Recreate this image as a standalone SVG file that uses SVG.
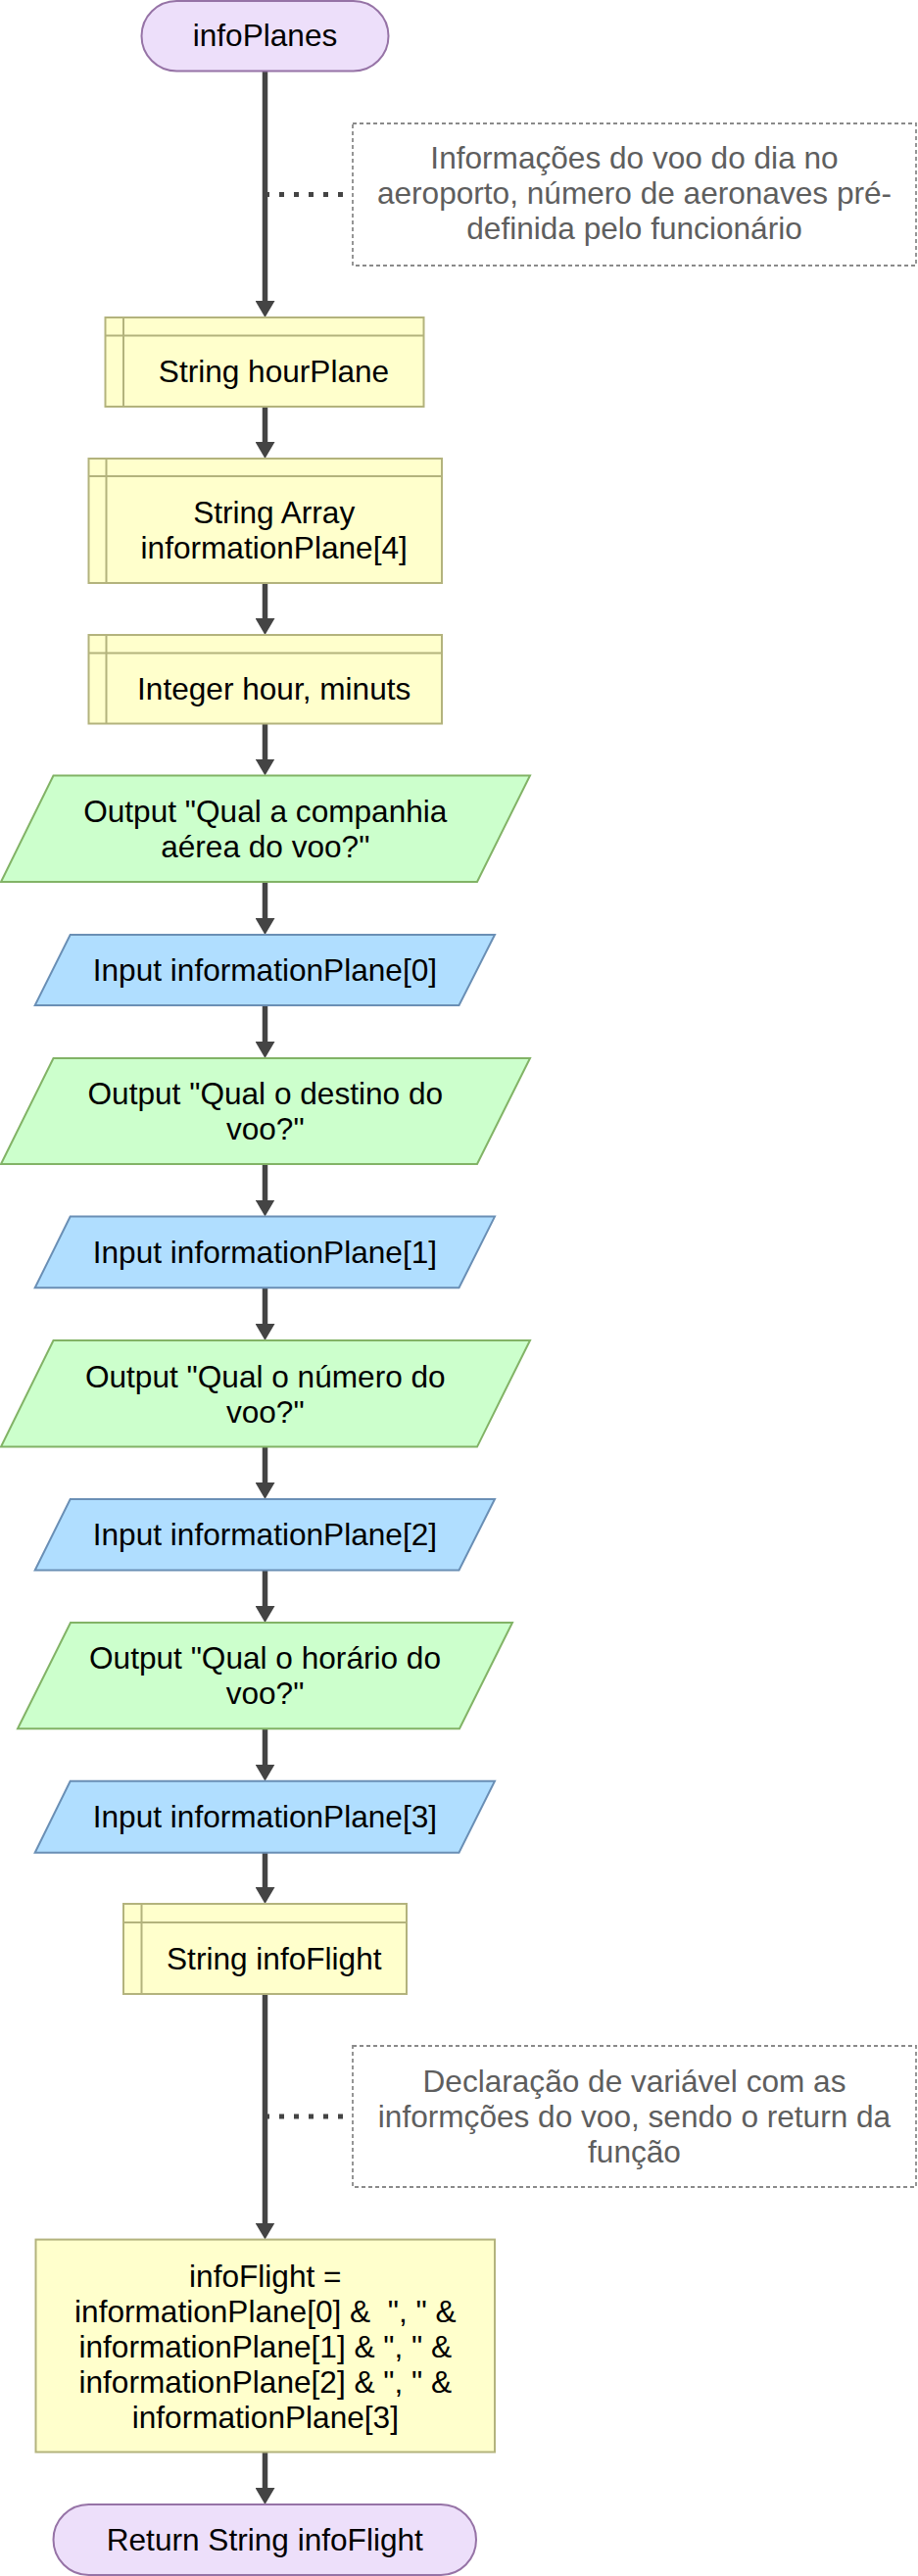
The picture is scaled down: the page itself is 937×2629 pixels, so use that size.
<svg xmlns="http://www.w3.org/2000/svg" width="937" height="2629" viewBox="0 0 937 2629">
<defs>
<style>
text{font-family:"Liberation Sans",Arial,sans-serif;font-size:31.6px;fill:#000;text-anchor:middle;white-space:pre}
.note text{fill:#5e5e5e}
.term{fill:#eddffa;stroke:#9673a6;stroke-width:2}
.store{fill:#ffffcc;stroke:#b3b37d;stroke-width:2}
.out{fill:#ccffcc;stroke:#82b366;stroke-width:2}
.inp{fill:#b0deff;stroke:#6a8fb5;stroke-width:2}
.note rect{fill:none;stroke:#8a8a8a;stroke-width:1.8;stroke-dasharray:4 3}
.edge{stroke:#444;stroke-width:5.5;fill:none}
.dot{stroke:#444;stroke-width:5;fill:none;stroke-dasharray:5 10}
</style>
<marker id="arr" markerUnits="userSpaceOnUse" viewBox="0 0 17 20" refX="1" refY="10" markerWidth="17" markerHeight="20" orient="auto">
<path d="M0,0 L17,10 L0,20 Z" fill="#444"/>
</marker>
</defs>
<rect width="937" height="2629" fill="#fff"/>
<g id="connectors">
<line class="edge" x1="270.5" y1="72.5" x2="270.5" y2="308" marker-end="url(#arr)"/>
<line class="edge" x1="270.5" y1="415" x2="270.5" y2="452" marker-end="url(#arr)"/>
<line class="edge" x1="270.5" y1="595" x2="270.5" y2="632" marker-end="url(#arr)"/>
<line class="edge" x1="270.5" y1="738.5" x2="270.5" y2="775.5" marker-end="url(#arr)"/>
<line class="edge" x1="270.5" y1="900" x2="270.5" y2="938" marker-end="url(#arr)"/>
<line class="edge" x1="270.5" y1="1026" x2="270.5" y2="1064" marker-end="url(#arr)"/>
<line class="edge" x1="270.5" y1="1188" x2="270.5" y2="1225.5" marker-end="url(#arr)"/>
<line class="edge" x1="270.5" y1="1314.3" x2="270.5" y2="1352" marker-end="url(#arr)"/>
<line class="edge" x1="270.5" y1="1476.6" x2="270.5" y2="1514" marker-end="url(#arr)"/>
<line class="edge" x1="270.5" y1="1602.5" x2="270.5" y2="1640" marker-end="url(#arr)"/>
<line class="edge" x1="270.5" y1="1764.3" x2="270.5" y2="1801.7" marker-end="url(#arr)"/>
<line class="edge" x1="270.5" y1="1890.7" x2="270.5" y2="1927" marker-end="url(#arr)"/>
<line class="edge" x1="270.5" y1="2035" x2="270.5" y2="2269.6" marker-end="url(#arr)"/>
<line class="edge" x1="270.5" y1="2502.5" x2="270.5" y2="2540" marker-end="url(#arr)"/>
<line class="dot" x1="270" y1="198.5" x2="360" y2="198.5"/>
<line class="dot" x1="270" y1="2160" x2="360" y2="2160"/>
</g>
<g id="start">
<rect class="term" x="144.5" y="1" width="252" height="71.5" rx="35.75"/>
<text x="270.5" y="47">infoPlanes</text>
</g>
<g id="note1" class="note">
<rect x="360" y="126" width="575" height="145"/>
<text x="647.5" y="172">Informações do voo do dia no</text>
<text x="647.5" y="208">aeroporto, número de aeronaves pré-</text>
<text x="647.5" y="244">definida pelo funcionário</text>
</g>
<g id="hourPlane">
<rect class="store" x="107.5" y="324" width="325" height="91"/>
<line class="store" x1="126" y1="324" x2="126" y2="415"/>
<line class="store" x1="107.5" y1="342.5" x2="432.5" y2="342.5"/>
<text x="279.5" y="389.5">String hourPlane</text>
</g>
<g id="informationPlane">
<rect class="store" x="90.5" y="468" width="360.5" height="127"/>
<line class="store" x1="108.5" y1="468" x2="108.5" y2="595"/>
<line class="store" x1="90.5" y1="486" x2="451" y2="486"/>
<text x="279.7" y="533.5">String Array</text>
<text x="279.7" y="569.5">informationPlane[4]</text>
</g>
<g id="hourMinuts">
<rect class="store" x="90.5" y="648" width="360.5" height="90.5"/>
<line class="store" x1="108.5" y1="648" x2="108.5" y2="738.5"/>
<line class="store" x1="90.5" y1="666.5" x2="451" y2="666.5"/>
<text x="279.7" y="713.5">Integer hour, minuts</text>
</g>
<g id="output1">
<polygon class="out" points="54.5,791.5 541,791.5 487,900 1,900"/>
<text x="270.8" y="839">Output "Qual a companhia</text>
<text x="270.8" y="875">aérea do voo?"</text>
</g>
<g id="input0">
<polygon class="inp" points="71.7,954 505,954 468.5,1026 35.7,1026"/>
<text x="270.4" y="1001">Input informationPlane[0]</text>
</g>
<g id="output2">
<polygon class="out" points="54.5,1080 541,1080 487,1188 1,1188"/>
<text x="270.8" y="1127">Output "Qual o destino do</text>
<text x="270.8" y="1163">voo?"</text>
</g>
<g id="input1">
<polygon class="inp" points="71.7,1241.6 505,1241.6 468.5,1314.3 35.7,1314.3"/>
<text x="270.4" y="1289">Input informationPlane[1]</text>
</g>
<g id="output3">
<polygon class="out" points="54.5,1368 541,1368 487,1476.6 1,1476.6"/>
<text x="270.8" y="1416">Output "Qual o número do</text>
<text x="270.8" y="1452">voo?"</text>
</g>
<g id="input2">
<polygon class="inp" points="71.7,1530 505,1530 468.5,1602.5 35.7,1602.5"/>
<text x="270.4" y="1577">Input informationPlane[2]</text>
</g>
<g id="output4">
<polygon class="out" points="72,1656 523,1656 469,1764.3 18,1764.3"/>
<text x="270.5" y="1703">Output "Qual o horário do</text>
<text x="270.5" y="1739">voo?"</text>
</g>
<g id="input3">
<polygon class="inp" points="71.7,1817.7 505,1817.7 468.5,1890.7 35.7,1890.7"/>
<text x="270.4" y="1865">Input informationPlane[3]</text>
</g>
<g id="infoFlightDecl">
<rect class="store" x="126" y="1943" width="289" height="92"/>
<line class="store" x1="144.5" y1="1943" x2="144.5" y2="2035"/>
<line class="store" x1="126" y1="1962" x2="415" y2="1962"/>
<text x="279.8" y="2009.5">String infoFlight</text>
</g>
<g id="note2" class="note">
<rect x="360" y="2088" width="575" height="144"/>
<text x="647.5" y="2135">Declaração de variável com as</text>
<text x="647.5" y="2171">informções do voo, sendo o return da</text>
<text x="647.5" y="2207">função</text>
</g>
<g id="infoFlightAssign">
<rect class="store" x="36.5" y="2285.6" width="468.5" height="216.9"/>
<text x="270.8" y="2333.5">infoFlight =</text>
<text x="270.8" y="2369.5">informationPlane[0] &amp;  ", " &amp;</text>
<text x="270.8" y="2405.5">informationPlane[1] &amp; ", " &amp;</text>
<text x="270.8" y="2441.5">informationPlane[2] &amp; ", " &amp;</text>
<text x="270.8" y="2477.5">informationPlane[3]</text>
</g>
<g id="end">
<rect class="term" x="54.5" y="2556" width="431.5" height="72" rx="36"/>
<text x="270.3" y="2603">Return String infoFlight</text>
</g>
</svg>
